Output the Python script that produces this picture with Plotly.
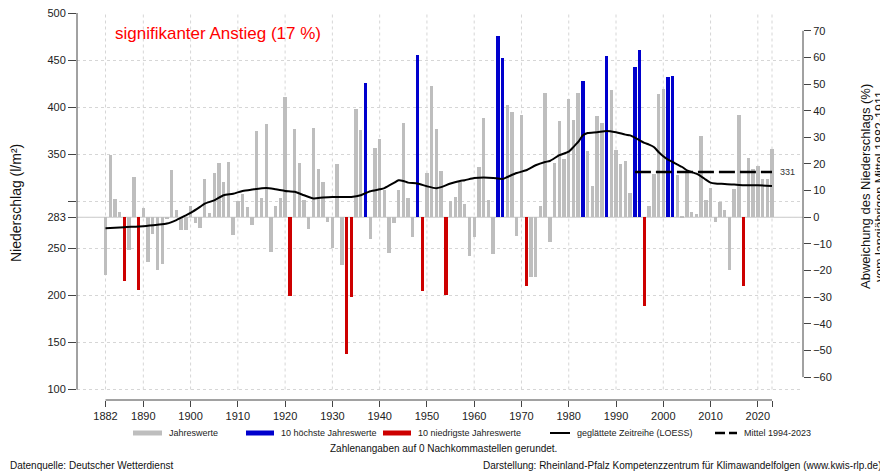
import plotly.graph_objects as go

# annual precipitation (l/m²)
years = list(range(1882, 2024))
niederschlag = [
    221.4, 348.9, 302.9, 289.0, 215.0, 248.7, 325.5, 205.5, 293.0, 235.5,  # 1882-1891
    265.7, 226.7, 233.8, 282.0, 333.0, 291.0, 269.5, 269.5, 294.7, 277.0,  # 1892-1901
    272.0, 324.0, 288.0, 330.0, 340.7, 320.5, 341.7, 264.3, 300.3, 307.2,  # 1902-1911
    293.5, 275.3, 374.7, 303.3, 381.7, 246.0, 294.7, 303.1, 411.0, 199.4,  # 1912-1921
    377.2, 340.4, 301.0, 270.5, 377.9, 334.5, 320.5, 278.0, 250.6, 340.0,  # 1922-1931
    232.0, 137.5, 198.4, 398.0, 375.4, 425.3, 260.0, 356.6, 366.6, 312.4,  # 1932-1941
    245.5, 277.0, 311.7, 383.6, 303.0, 262.0, 455.0, 204.7, 330.5, 422.9,  # 1942-1951
    377.2, 332.0, 200.2, 300.3, 304.6, 320.5, 296.8, 242.3, 262.0, 336.4,  # 1952-1961
    388.5, 301.8, 243.7, 475.3, 452.6, 402.7, 395.3, 263.0, 391.3, 209.7,  # 1962-1971
    219.6, 219.8, 295.0, 414.7, 257.2, 341.0, 385.3, 344.6, 409.0, 386.8,  # 1972-1981
    415.0, 427.4, 353.8, 316.0, 391.0, 383.6, 454.5, 418.0, 354.0, 340.0,  # 1982-1991
    342.3, 308.8, 443.0, 460.4, 189.2, 295.0, 329.3, 414.0, 419.7, 432.0,  # 1992-2001
    433.0, 328.0, 283.5, 331.0, 288.6, 286.5, 369.8, 301.8, 314.5, 277.7,  # 2002-2011
    299.3, 291.2, 227.4, 313.0, 391.3, 210.4, 345.7, 334.0, 337.5, 324.0,  # 2012-2021
    323.3, 355.5,                                                          # 2022-2023
]

# smoothed series (LOESS)
loess_years = [1882, 1886, 1890, 1893, 1895, 1897, 1899, 1900, 1902, 1903, 1905, 1907,
               1909, 1911, 1913, 1916, 1918, 1920, 1922, 1924, 1926, 1928, 1930, 1934,
               1936, 1938, 1940, 1941, 1943, 1944, 1945, 1946, 1948, 1950, 1952, 1953,
               1955, 1957, 1958, 1960, 1962, 1964, 1966, 1967, 1969, 1971, 1973, 1975,
               1976, 1978, 1980, 1981, 1982, 1983, 1984, 1986, 1988, 1990, 1992, 1993,
               1994, 1995, 1996, 1997, 1998, 1999, 2000, 2001, 2002, 2003, 2004, 2005,
               2006, 2007, 2008, 2009, 2010, 2011, 2013, 2015, 2017, 2020, 2023]
loess_werte = [271.3, 272.5, 273.5, 275.0, 276.3, 280.0, 285.0, 287.6, 294.0, 297.5, 301.0, 306.4,
               308.0, 311.0, 312.4, 314.0, 312.7, 311.0, 310.0, 306.4, 303.0, 304.0, 304.6, 304.6,
               306.4, 310.6, 312.7, 314.0, 319.4, 322.3, 321.6, 319.8, 318.8, 315.9, 313.8, 315.0,
               318.8, 321.6, 322.3, 324.7, 325.2, 324.7, 323.7, 325.8, 330.0, 332.9, 338.2, 341.7,
               342.8, 348.9, 352.7, 357.7, 363.0, 370.0, 372.5, 373.3, 374.7, 373.3, 370.8, 370.0,
               367.6, 364.8, 362.0, 360.2, 357.7, 352.4, 347.8, 344.2, 341.7, 338.9, 336.4, 332.9,
               331.0, 329.3, 326.5, 323.0, 319.8, 318.8, 318.4, 317.7, 317.0, 317.0, 316.3]

mittel_ref = 283          # Mittel 1882-1911
mittel_neu = 331          # Mittel 1994-2023
mittel_neu_jahre = [1994, 2023]

x_ticks = [1882, 1890, 1900, 1910, 1920, 1930, 1940, 1950, 1960, 1970, 1980, 1990, 2000, 2010, 2020, 2023]
y_ticks = [100, 150, 200, 250, 283, 300, 350, 400, 450, 500]
y2_ticks = list(range(-60, 80, 10))

GRAU = "#bebebe"
BLAU = "#0000cd"
ROT = "#cd0000"
ACHSE = "#444444"
FONT = "Liberation Sans, Arial, sans-serif"

# colour of each bar: 10 highest blue, 10 lowest red
order = sorted(range(len(niederschlag)), key=lambda i: niederschlag[i])
farben = [GRAU] * len(niederschlag)
for i in order[:10]:
    farben[i] = ROT
for i in order[-10:]:
    farben[i] = BLAU

# the page puts the figure 8 px in from the top-left corner,
# so the figure is sized to end at the window edge
OFF = 8
W, H = 888 - OFF, 474 - OFF - 2
L, R, T, B = 77 - OFF, 85, 13 - OFF, 474 - OFF - 2 - (400 - OFF)
frac = (400 - 389.5) / (400 - 13)        # 100 line sits at page y 389.5
y_lo = (100 - frac * 500) / (1 - frac)
y_range = [y_lo, 500]
y2_range = [(v - mittel_ref) / mittel_ref * 100 for v in y_range]
px_per_year = (772 - 105.5) / 141
x_range = [1882 - (105.5 - 77) / px_per_year, 2023 + (803 - 772) / px_per_year]


def px(x):
    # page x pixel -> paper x
    return (x - OFF - L) / (W - L - R)


def py(y):
    # page y pixel -> paper y
    return (H - B - (y - OFF)) / (H - T - B)


fig = go.Figure()

fig.add_trace(go.Bar(
    x=years,
    y=[v - mittel_ref for v in niederschlag],
    base=mittel_ref,
    width=0.72,
    marker=dict(color=farben, line=dict(width=0)),
    showlegend=False,
    hoverinfo="x+text",
    text=[f"{v:.0f}" for v in niederschlag],
    textposition="none",
))

fig.add_trace(go.Scatter(
    x=loess_years, y=loess_werte, mode="lines",
    line=dict(color="black", width=2, shape="spline", smoothing=0.6),
    showlegend=False, hoverinfo="skip",
))

fig.add_trace(go.Scatter(
    x=mittel_neu_jahre, y=[mittel_neu, mittel_neu], mode="lines",
    line=dict(color="black", width=2.5, dash="16px,5px"),
    showlegend=False, hoverinfo="skip",
))

# keeps the right axis alive
fig.add_trace(go.Scatter(x=[years[0]], y=[0], yaxis="y2", mode="lines",
                         showlegend=False, hoverinfo="skip"))

shapes = []
for t in x_ticks:
    shapes.append(dict(type="line", xref="x", yref="y", x0=t, x1=t, y0=100, y1=500,
                       line=dict(color="#d6d6d6", width=1, dash="dot"), layer="below"))
shapes.append(dict(type="line", xref="paper", yref="y", x0=0, x1=1, y0=mittel_ref, y1=mittel_ref,
                   line=dict(color="#c8c8c8", width=1), layer="below"))
shapes.append(dict(type="line", xref="paper", yref="y", x0=0, x1=0, y0=100, y1=500,
                   line=dict(color=ACHSE, width=1)))
shapes.append(dict(type="line", xref="paper", yref="y2", x0=1, x1=1, y0=-60, y1=70,
                   line=dict(color=ACHSE, width=1)))
shapes.append(dict(type="line", xref="x", yref="paper", x0=1882, x1=2023, y0=0, y1=0,
                   line=dict(color=ACHSE, width=1)))

# legend drawn by hand
ly = py(433)
legende = [
    (133, 162, GRAU, 5, "solid", "Jahreswerte"),
    (246, 274, BLAU, 5, "solid", "10 höchste Jahreswerte"),
    (383, 411, ROT, 5, "solid", "10 niedrigste Jahreswerte"),
    (550, 570, "black", 2, "solid", "geglättete Zeitreihe (LOESS)"),
    (715, 737, "black", 2.5, "10px,4px", "Mittel 1994-2023"),
]
annotations = []
for x0, x1, col, lw, dash, label in legende:
    shapes.append(dict(type="line", xref="paper", yref="paper", x0=px(x0), x1=px(x1), y0=ly, y1=ly,
                       line=dict(color=col, width=lw, dash=dash)))
    annotations.append(dict(xref="paper", yref="paper", x=px(x1 + 5), y=ly, text=label,
                            showarrow=False, xanchor="left", yanchor="middle",
                            font=dict(size=9, color="#222")))


def text(x, y, s, size, anchor="center", angle=0, color="#111", yref="paper"):
    return dict(xref="paper", yref=yref, x=x, y=y, text=s, textangle=angle, showarrow=False,
                xanchor=anchor, yanchor="middle", font=dict(size=size, color=color))


annotations += [
    text(px(113), py(33), "signifikanter Anstieg (17 %)", 17, "left", color="#ff0000"),
    text(px(778), mittel_neu, str(mittel_neu), 9, "left", color="#333", yref="y"),
    text(px(16), py(203), "Niederschlag (l/m²)", 14, angle=-90),
    text(px(865), py(187), "Abweichung des Niederschlags (%)", 13, angle=-90),
    text(px(880), py(186), "vom langjährigen Mittel 1882-1911", 12.5, angle=-90),
    text(px(443), py(448), "Zahlenangaben auf 0 Nachkommastellen gerundet.", 10),
    text(px(OFF), py(465), "Datenquelle: Deutscher Wetterdienst", 10, "left"),
    text(px(884), py(465),
         "Darstellung: Rheinland-Pfalz Kompetenzzentrum für Klimawandelfolgen (www.kwis-rlp.de)",
         10, "right"),
]

fig.update_layout(
    width=W, height=H,
    margin=dict(l=L, r=R, t=T, b=B, autoexpand=False),
    paper_bgcolor="white", plot_bgcolor="white",
    font=dict(family=FONT, size=11, color="#222"),
    bargap=0,
    xaxis=dict(range=x_range, tickvals=x_ticks,
               ticktext=[str(t) if t != 2023 else "" for t in x_ticks],
               ticks="outside", ticklen=6, tickcolor=ACHSE, automargin=False,
               showgrid=False, zeroline=False, showline=False, fixedrange=True),
    yaxis=dict(range=y_range, tickvals=y_ticks,
               ticktext=[str(t) if t != 300 else "" for t in y_ticks],
               ticks="outside", ticklen=8, tickcolor=ACHSE, automargin=False,
               ticklabeloverflow="allow",
               showgrid=True, gridcolor="#d6d6d6", griddash="dot", gridwidth=1,
               zeroline=False, showline=False),
    yaxis2=dict(range=y2_range, overlaying="y", side="right", tickvals=y2_ticks,
                ticks="outside", ticklen=7, tickcolor=ACHSE, automargin=False,
                ticklabeloverflow="allow",
                showgrid=False, zeroline=False, showline=False),
    shapes=shapes,
    annotations=annotations,
)

fig.write_html("out.html")
